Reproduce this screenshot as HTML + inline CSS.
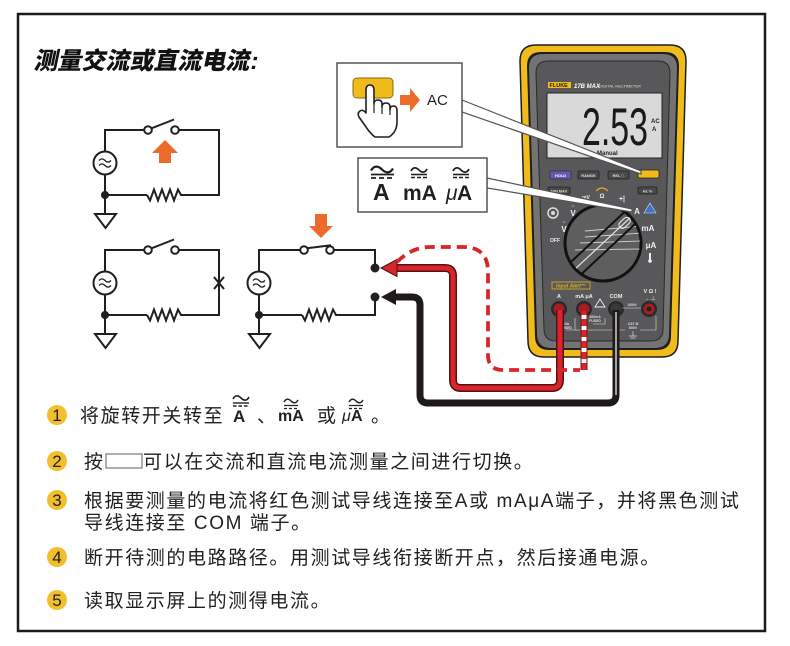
<!DOCTYPE html>
<html><head><meta charset="utf-8">
<style>
html,body{margin:0;padding:0;background:#fff;}
svg{display:block;}
</style></head><body>
<svg width="790" height="646" viewBox="0 0 790 646" xmlns="http://www.w3.org/2000/svg" font-family="'Liberation Sans','Noto Sans CJK SC',sans-serif">
<rect x="0" y="0" width="790" height="646" fill="#fff"/>
<rect x="18" y="14" width="747" height="617" fill="none" stroke="#1a1a1a" stroke-width="2.5"/>

<!-- Title -->
<text x="48" y="69" transform="skewX(-12)" font-size="24" font-weight="900" fill="#111">测量交流或直流电流:</text>

<!-- Circuit 1 -->
<g stroke="#231f20" stroke-width="2" fill="none">
  <path d="M105,151.5 V130 H144.2"/>
  <path d="M178.8,130 H219 V195 H183"/>
  <path d="M147,195 H105 V214"/>
  <path d="M105,174.5 V195"/>
  <polyline points="183,195 181,195 178,189.5 174,200.5 170,189.5 166,200.5 162,189.5 158,200.5 154,189.5 150,200.5 147,195"/>
  <line x1="151.5" y1="128.3" x2="174" y2="119.5"/>
  <circle cx="148" cy="130" r="3.8" fill="#fff"/>
  <circle cx="175" cy="130" r="3.8" fill="#fff"/>
  <circle cx="105" cy="163" r="11.5" fill="#fff"/>
  <path d="M99,160.5 q3,-3.2 6,0 t6,0" stroke-width="1.3"/>
  <path d="M99,165.5 q3,-3.2 6,0 t6,0" stroke-width="1.3"/>
  <polygon points="95,214 116,214 105.5,228" fill="#fff"/>
  <circle cx="105" cy="195" r="4" fill="#231f20" stroke="none"/>
</g>
<polygon points="165,140 178,153 171,153 171,163 159,163 159,153 152,153" fill="#ec6a2c"/>

<!-- Circuit 2 -->
<g stroke="#231f20" stroke-width="2" fill="none">
  <path d="M105,271.5 V250 H144.2"/>
  <path d="M178.8,250 H219 V315 H183"/>
  <path d="M147,315 H105 V334"/>
  <path d="M105,294.5 V315"/>
  <polyline points="183,315 181,315 178,309.5 174,320.5 170,309.5 166,320.5 162,309.5 158,320.5 154,309.5 150,320.5 147,315"/>
  <line x1="151.5" y1="248.3" x2="174" y2="239.5"/>
  <circle cx="148" cy="250" r="3.8" fill="#fff"/>
  <circle cx="175" cy="250" r="3.8" fill="#fff"/>
  <circle cx="105" cy="283" r="11.5" fill="#fff"/>
  <path d="M99,280.5 q3,-3.2 6,0 t6,0" stroke-width="1.3"/>
  <path d="M99,285.5 q3,-3.2 6,0 t6,0" stroke-width="1.3"/>
  <polygon points="95,334 116,334 105.5,348" fill="#fff"/>
  <line x1="214" y1="277" x2="224" y2="289"/>
  <line x1="214" y1="289" x2="224" y2="277"/>
  <circle cx="105" cy="315" r="4" fill="#231f20" stroke="none"/>
</g>

<!-- Circuit 3 -->
<g stroke="#231f20" stroke-width="2" fill="none">
  <path d="M259,271.5 V250 H300.2"/>
  <path d="M333.8,250 H375 V268"/>
  <path d="M375,297 V315 H338"/>
  <path d="M302,315 H259 V334"/>
  <path d="M259,294.5 V315"/>
  <polyline points="338,315 336,315 333,309.5 329,320.5 325,309.5 321,320.5 317,309.5 313,320.5 309,309.5 305,320.5 302,315"/>
  <line x1="307" y1="248.3" x2="331" y2="245.2"/>
  <circle cx="304" cy="250" r="3.8" fill="#fff"/>
  <circle cx="330" cy="250" r="3.8" fill="#fff"/>
  <circle cx="259" cy="283" r="11.5" fill="#fff"/>
  <path d="M253,280.5 q3,-3.2 6,0 t6,0" stroke-width="1.3"/>
  <path d="M253,285.5 q3,-3.2 6,0 t6,0" stroke-width="1.3"/>
  <polygon points="249,334 270,334 259.5,348" fill="#fff"/>
  <circle cx="259" cy="315" r="4" fill="#231f20" stroke="none"/>
  <circle cx="375" cy="268" r="4.5" fill="#231f20" stroke="none"/>
  <circle cx="375" cy="297" r="4.5" fill="#231f20" stroke="none"/>
</g>
<polygon points="315,214 327,214 327,226 333,226 321,238 309,226 315,226" fill="#ec6a2c"/>

<!-- Multimeter body -->
<path d="M536,45 H670 Q686,45 686,61 L678,341 Q678,357 662,357 H544 Q528,357 528,341 L520,61 Q520,45 536,45 Z" fill="#f2bb1c" stroke="#1f1f1f" stroke-width="1.5"/>
<path d="M541,52 H665 Q679,52 679,66 L671,336 Q671,350 657,350 H549 Q535,350 535,336 L527,66 Q527,52 541,52 Z" fill="#1f1f1f"/>
<path d="M543,54 H663 Q677,54 677,68 L669,334 Q669,348 655,348 H551 Q537,348 537,334 L529,68 Q529,54 543,54 Z" fill="#737373"/>
<path d="M548,61 H658 Q670,61 670,73 L663,329 Q663,341 651,341 H556 Q544,341 544,329 L536,73 Q536,61 548,61 Z" fill="#58585a" stroke="#2a2a2a" stroke-width="1"/>

<!-- logo -->
<rect x="548" y="82" width="23" height="6" fill="#f2bb1c"/>
<text x="549.5" y="87" font-size="5.5" font-weight="bold" fill="#222">FLUKE</text>
<text x="574" y="88" font-size="6" font-style="italic" font-weight="bold" fill="#fff">17B MAX</text>
<text x="599" y="87.5" font-size="4" fill="#ddd">DIGITAL MULTIMETER</text>

<!-- LCD -->
<rect x="547" y="93" width="115" height="65" fill="#d9d9d9" stroke="#222" stroke-width="1"/>
<text x="582" y="145" font-size="53" fill="#1a1a1a" textLength="66" lengthAdjust="spacingAndGlyphs">2.53</text>
<text x="651" y="123" font-size="6" font-weight="bold" fill="#222">AC</text>
<text x="652" y="131" font-size="6" font-weight="bold" fill="#222">A</text>
<text x="597" y="155" font-size="6" font-weight="bold" fill="#222">Manual</text>

<!-- Buttons -->
<rect x="550" y="171" width="21" height="8" rx="1.5" fill="#6a58b8" stroke="#333" stroke-width="0.8"/>
<text x="560.5" y="177" font-size="4" font-weight="bold" fill="#fff" text-anchor="middle">HOLD</text>
<rect x="578" y="171" width="21" height="8" rx="1.5" fill="#4a4a4a" stroke="#222" stroke-width="0.8"/>
<text x="588.5" y="177" font-size="4" font-weight="bold" fill="#ddd" text-anchor="middle">RANGE</text>
<rect x="608" y="171" width="21" height="8" rx="1.5" fill="#4a4a4a" stroke="#222" stroke-width="0.8"/>
<text x="618.5" y="177" font-size="4" font-weight="bold" fill="#ddd" text-anchor="middle">REL△</text>
<rect x="638" y="170" width="21" height="8" rx="1.5" fill="#f2bb1c" stroke="#222" stroke-width="0.8"/>
<rect x="548" y="187" width="22" height="7" rx="1.5" fill="#4a4a4a" stroke="#222" stroke-width="0.8"/>
<text x="559" y="192.5" font-size="3.8" font-weight="bold" fill="#ddd" text-anchor="middle">MIN MAX</text>
<rect x="638" y="187" width="19" height="7" rx="1.5" fill="#4a4a4a" stroke="#222" stroke-width="0.8"/>
<text x="647.5" y="192.5" font-size="4" font-weight="bold" fill="#ddd" text-anchor="middle">Hz %</text>

<!-- dial labels -->
<circle cx="553" cy="213" r="5" fill="none" stroke="#ddd" stroke-width="1.5"/>
<circle cx="553" cy="213" r="2" fill="#ddd"/>
<text x="573" y="216" font-size="8" font-weight="bold" fill="#eee" text-anchor="middle">V</text>
<text x="573" y="208" font-size="5" fill="#eee" text-anchor="middle">~</text>
<text x="564" y="232" font-size="8" font-weight="bold" fill="#eee" text-anchor="middle">V</text>
<text x="564" y="224" font-size="5" fill="#eee" text-anchor="middle">~</text>
<text x="555" y="242" font-size="5" font-weight="bold" fill="#eee" text-anchor="middle">OFF</text>
<text x="586" y="199" font-size="5" font-weight="bold" fill="#eee" text-anchor="middle">mV</text>
<path d="M596,191 q6,-6 12,0" fill="none" stroke="#e8b21d" stroke-width="1.2"/>
<text x="602" y="198" font-size="6" font-weight="bold" fill="#eee" text-anchor="middle">Ω</text>
<text x="622" y="201" font-size="7" font-weight="bold" fill="#eee" text-anchor="middle">+|</text>
<text x="637" y="214" font-size="8" font-weight="bold" fill="#eee" text-anchor="middle">A</text>
<polygon points="650,203 656,213 644,213" fill="#3b74c9" stroke="#ddd" stroke-width="0.6"/>
<text x="648" y="231" font-size="8" font-weight="bold" fill="#eee" text-anchor="middle">mA</text>
<text x="651" y="248" font-size="8" font-weight="bold" fill="#eee" text-anchor="middle">μA</text>
<rect x="649" y="253" width="2" height="7" fill="#eee"/>
<circle cx="650" cy="261" r="1.8" fill="#eee"/>

<!-- dial -->
<defs><clipPath id="dc"><circle cx="603" cy="243" r="37"/></clipPath></defs>
<circle cx="603" cy="243" r="38" fill="#5e5e5e" stroke="#111" stroke-width="3"/>
<g clip-path="url(#dc)">
  <line x1="585" y1="231" x2="642" y2="226" stroke="#cfcfcf" stroke-width="0.9"/>
  <line x1="585" y1="237" x2="642" y2="233" stroke="#cfcfcf" stroke-width="0.9"/>
  <line x1="580" y1="243" x2="642" y2="241" stroke="#cfcfcf" stroke-width="0.9"/>
  <line x1="575" y1="250" x2="642" y2="249" stroke="#cfcfcf" stroke-width="0.9"/>
  <g transform="rotate(-43 603 243)">
    <rect x="560" y="235" width="86" height="16" fill="none" stroke="#111" stroke-width="2"/>
    <line x1="560" y1="243" x2="646" y2="243" stroke="#e5e5e5" stroke-width="1.2"/>
    <rect x="626" y="239.5" width="13" height="7" rx="3.5" fill="none" stroke="#eee" stroke-width="1"/>
  </g>
</g>

<!-- terminals -->
<rect x="552" y="282" width="38" height="7" fill="none" stroke="#e3b21b" stroke-width="0.8"/>
<text x="571" y="287.5" font-size="5" font-style="italic" font-weight="bold" fill="#e3b21b" text-anchor="middle">Input Alert™</text>
<text x="559" y="298" font-size="5.5" font-weight="bold" fill="#eee" text-anchor="middle">A</text>
<text x="584" y="298" font-size="5.5" font-weight="bold" fill="#eee" text-anchor="middle">mA μA</text>
<text x="616" y="298" font-size="5.5" font-weight="bold" fill="#eee" text-anchor="middle">COM</text>
<text x="650" y="293" font-size="5.5" font-weight="bold" fill="#eee" text-anchor="middle">V Ω !</text>
<text x="650" y="300" font-size="5" fill="#eee" text-anchor="middle">→ ⊥</text>
<polygon points="600,299 605,307 595,307" fill="none" stroke="#eee" stroke-width="0.9"/>
<circle cx="559" cy="309" r="8" fill="#2a2a2a"/><circle cx="559" cy="309" r="5.5" fill="#a81c22"/>
<circle cx="584" cy="309" r="8" fill="#2a2a2a"/><circle cx="584" cy="309" r="5.5" fill="#a81c22"/>
<circle cx="616" cy="309" r="8" fill="#2a2a2a"/><circle cx="616" cy="309" r="5.5" fill="#3a3a3a"/>
<circle cx="649" cy="309" r="8" fill="#2a2a2a"/><circle cx="649" cy="309" r="5.5" fill="#a81c22"/><circle cx="649" cy="309" r="2.5" fill="#222"/>
<g stroke="#ddd" stroke-width="0.6" fill="none">
  <path d="M566,330 H575 V318"/>
  <path d="M593,324 H605 V318"/>
  <path d="M622,308 H641"/>
  <path d="M640,330 H656 V316"/>
  <path d="M575,330 H625"/>
</g>
<text x="566" y="325" font-size="3.5" font-weight="bold" fill="#ddd" text-anchor="middle">10A</text>
<text x="566" y="329" font-size="3.5" font-weight="bold" fill="#ddd" text-anchor="middle">FUSED</text>
<text x="595" y="318" font-size="3.5" font-weight="bold" fill="#ddd" text-anchor="middle">400mA</text>
<text x="595" y="322" font-size="3.5" font-weight="bold" fill="#ddd" text-anchor="middle">FUSED</text>
<text x="632" y="306" font-size="3.2" font-weight="bold" fill="#ddd" text-anchor="middle">1000V</text>
<text x="633" y="325" font-size="3.5" font-weight="bold" fill="#ddd" text-anchor="middle">CAT III</text>
<text x="633" y="329" font-size="3.5" font-weight="bold" fill="#ddd" text-anchor="middle">600V</text>
<path d="M633,331 V336 M629,336 H637 M630.5,338 H635.5" stroke="#ddd" stroke-width="0.7" fill="none"/>

<!-- Leads -->
<path d="M394,297 H412 Q420,297 420,305 V395 Q420,403 428,403 H608 Q616,403 616,395 V310" fill="none" stroke="#1f1a1a" stroke-width="7"/>
<path d="M616,395 V312" fill="none" stroke="#fff" stroke-width="1.2"/>
<polygon points="381,297 396,289 396,305" fill="#1f1a1a"/>

<path d="M394,268 H445 Q453,268 453,276 V380 Q453,388 461,388 H552 Q560,388 560,380 V310" fill="none" stroke="#5c0f0f" stroke-width="8"/>
<path d="M394,268 H445 Q453,268 453,276 V380 Q453,388 461,388 H552 Q560,388 560,380 V310" fill="none" stroke="#d6262c" stroke-width="5"/>
<polygon points="381,268 397,259.5 397,276.5" fill="#d6262c" stroke="#5c0f0f" stroke-width="1"/>

<path d="M397,262 Q412,247 430,247 H463 Q488,247 488,272 V355 Q488,370 503,370 H580" fill="none" stroke="#d6262c" stroke-width="3.8" stroke-dasharray="10 6"/>
<path d="M584,370 V311" fill="none" stroke="#7a1515" stroke-width="7"/>
<path d="M584,370 V311" fill="none" stroke="#fff" stroke-width="5"/>
<path d="M584,370 V311" fill="none" stroke="#d6262c" stroke-width="5" stroke-dasharray="7 4"/>

<!-- Callout wedges -->
<polygon points="462,100 641,171 641,174 462,112" fill="#fff" stroke="#555" stroke-width="1.2"/>
<polygon points="487,178 632,209 632,212 487,188" fill="#fff" stroke="#555" stroke-width="1.2"/>

<!-- Callout box 1 -->
<rect x="337" y="63" width="125" height="84" fill="#fff" stroke="#555" stroke-width="1.5"/>
<rect x="353" y="78" width="40" height="20" rx="4" fill="#f2bb1c" stroke="#8a6a10" stroke-width="1"/>
<path d="M366,112 V90 Q366,85 370,85 Q374,85 374,90 V104 Q374,100 378,100 Q382,100 382,104 V107 Q382,103 386,103 Q390,103 390,107 V110 Q390,106 393.5,106 Q397,106 397,110 V122 Q397,132 389,137 H375 Q370,133 366,127 L359,117 Q357,113 360,111 Q363,109 366,113 Z" fill="#fff" stroke="#231f20" stroke-width="1.6" stroke-linejoin="round"/>
<path d="M374,104 V113 M382,107 V114 M390,110 V115" stroke="#231f20" stroke-width="1.2" fill="none"/>
<polygon points="400,95 410,95 410,88 420,100 410,112 410,105 400,105" fill="#ec6a2c"/>
<text x="427" y="105" font-size="15" fill="#231f20">AC</text>

<!-- Callout box 2 -->
<rect x="358" y="158" width="129" height="54" fill="#fff" stroke="#555" stroke-width="1.5"/>
<g stroke="#231f20" fill="none">
  <path d="M371,170.5 c3,-5 7,-5 11,-1 s8,4 11,-1" stroke-width="2.2"/>
  <line x1="371" y1="174.5" x2="394" y2="174.5" stroke-width="1.8"/>
  <line x1="371" y1="178" x2="394" y2="178" stroke-width="1.8" stroke-dasharray="5 3"/>
  <path d="M411,171 c2,-4 5,-4 8,-1 s6,3 8,-1" stroke-width="1.8"/>
  <line x1="411" y1="174.5" x2="427" y2="174.5" stroke-width="1.6"/>
  <line x1="411" y1="177.5" x2="427" y2="177.5" stroke-width="1.6" stroke-dasharray="4 2"/>
  <path d="M453,171 c2,-4 5,-4 8,-1 s6,3 8,-1" stroke-width="1.8"/>
  <line x1="453" y1="174.5" x2="469" y2="174.5" stroke-width="1.6"/>
  <line x1="453" y1="177.5" x2="469" y2="177.5" stroke-width="1.6" stroke-dasharray="4 2"/>
</g>
<text x="373" y="200" font-size="23" font-weight="bold" fill="#231f20">A</text>
<text x="403" y="200" font-size="21" font-weight="bold" fill="#231f20">mA</text>
<text x="446" y="200" font-size="21" font-style="italic" fill="#231f20">μ</text>
<text x="457" y="200" font-size="21" font-weight="bold" fill="#231f20">A</text>

<!-- Steps -->
<g fill="#f2bf2c">
  <circle cx="57" cy="415" r="10"/>
  <circle cx="57" cy="461" r="10"/>
  <circle cx="57" cy="500" r="10"/>
  <circle cx="57" cy="557" r="10"/>
  <circle cx="57" cy="600" r="10"/>
</g>
<g font-size="17" fill="#231f20" text-anchor="middle">
  <text x="57" y="421">1</text>
  <text x="57" y="467">2</text>
  <text x="57" y="506">3</text>
  <text x="57" y="563">4</text>
  <text x="57" y="606">5</text>
</g>
<g font-size="19" fill="#231f20" letter-spacing="1.6">
  <text x="80" y="422">将旋转开关转至</text>
  <text x="257" y="422">、</text>
  <text x="317" y="422">或</text>
  <text x="371" y="422">。</text>
  <text x="84" y="468">按</text>
  <text x="143" y="468">可以在交流和直流电流测量之间进行切换。</text>
  <text x="84" y="507">根据要测量的电流将红色测试导线连接至A或 mAμA端子，并将黑色测试</text>
  <text x="84" y="529">导线连接至 COM 端子。</text>
  <text x="84" y="564">断开待测的电路路径。用测试导线衔接断开点，然后接通电源。</text>
  <text x="84" y="607">读取显示屏上的测得电流。</text>
</g>
<rect x="106" y="454" width="36" height="14" fill="#fff" stroke="#7a7a7a" stroke-width="1.2"/>

<!-- step 1 inline symbols -->
<g stroke="#231f20" fill="none">
  <path d="M233,399 c2,-4 5,-4 8,-1 s6,3 8,-1" stroke-width="1.6"/>
  <line x1="233" y1="403" x2="249" y2="403" stroke-width="1.4"/>
  <line x1="233" y1="406" x2="249" y2="406" stroke-width="1.4" stroke-dasharray="3.5 2"/>
  <path d="M284,402 c2,-3.5 4.5,-3.5 7,-1 s5,2.5 7,-1" stroke-width="1.4"/>
  <line x1="284" y1="405.5" x2="298" y2="405.5" stroke-width="1.2"/>
  <line x1="284" y1="408.5" x2="298" y2="408.5" stroke-width="1.2" stroke-dasharray="3 2"/>
  <path d="M349,402 c2,-3.5 4.5,-3.5 7,-1 s5,2.5 7,-1" stroke-width="1.4"/>
  <line x1="349" y1="405.5" x2="363" y2="405.5" stroke-width="1.2"/>
  <line x1="349" y1="408.5" x2="363" y2="408.5" stroke-width="1.2" stroke-dasharray="3 2"/>
</g>
<text x="233" y="422" font-size="17" font-weight="bold" fill="#231f20">A</text>
<text x="278" y="421" font-size="16" font-weight="bold" fill="#231f20">mA</text>
<text x="342" y="421" font-size="16" font-style="italic" fill="#231f20">μ</text>
<text x="351" y="421" font-size="16" font-weight="bold" fill="#231f20">A</text>
</svg>
</body></html>
